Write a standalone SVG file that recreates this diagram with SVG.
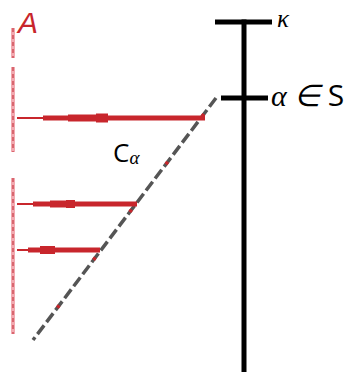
<svg xmlns="http://www.w3.org/2000/svg" width="349" height="375" viewBox="0 0 349 375">
<style>
.red{stroke:#c8262c;fill:none}
.blk{stroke:#000;stroke-width:5;fill:none}
.lbl{font-family:"Liberation Serif",serif;font-style:italic;fill:#000}
</style>
<rect width="349" height="375" fill="#fff"/>
<g id="setA">
<path d="M13,28V58M13,67V152M13,178V334" stroke="#f2a9b0" stroke-width="4" fill="none"/>
<path d="M13,28V58M13,67V152M13,178V334" stroke="#d0505a" stroke-width="1.5" stroke-dasharray="4 3" fill="none"/>
<text x="18" y="33" font-family="Liberation Sans,sans-serif" font-style="italic" font-size="30" fill="#c8262c">A</text>
</g>
<g id="kappa-axis">
<line class="blk" x1="244" y1="19.5" x2="244" y2="372"/>
<line class="blk" x1="215" y1="22" x2="272" y2="22"/>
<line class="blk" x1="221" y1="98" x2="268" y2="98"/>
<text class="lbl" x="277" y="27" font-size="25">κ</text>
<text x="271" y="106" font-size="30"><tspan class="lbl">α ∈ </tspan><tspan font-family="Open Sans,sans-serif" font-size="30">S</tspan></text>
</g>
<g id="connectors">
<line x1="216" y1="98" x2="33" y2="340" stroke="#555" stroke-width="3.5" stroke-dasharray="11 4"/>
<line x1="216" y1="98" x2="33" y2="340" stroke="#c8262c" stroke-width="3.5" stroke-dasharray="3 57" stroke-dashoffset="-20"/>
<g id="h1">
<line class="red" x1="17" y1="118" x2="44" y2="118" stroke-width="2"/>
<line class="red" x1="43" y1="118" x2="205" y2="118" stroke-width="5"/>
<line class="red" x1="68" y1="118" x2="97" y2="118" stroke-width="7"/>
<line class="red" x1="96" y1="118" x2="108" y2="118" stroke-width="9"/>
</g>
<g id="h2">
<line class="red" x1="17" y1="204" x2="34" y2="204" stroke-width="2"/>
<line class="red" x1="33" y1="204" x2="137" y2="204" stroke-width="5"/>
<line class="red" x1="50" y1="204" x2="67" y2="204" stroke-width="7"/>
<line class="red" x1="66" y1="204" x2="75" y2="204" stroke-width="8"/>
</g>
<g id="h3">
<line class="red" x1="17" y1="250" x2="29" y2="250" stroke-width="2"/>
<line class="red" x1="28" y1="250" x2="100" y2="250" stroke-width="5"/>
<line class="red" x1="40" y1="250" x2="55" y2="250" stroke-width="8"/>
</g>
</g>
<g id="C-alpha">
<text x="113" y="162" font-family="Open Sans,sans-serif" font-size="26" fill="#000">C<tspan font-family="Liberation Serif,serif" font-style="italic" font-size="19" dy="2">α</tspan></text>
</g>
</svg>
